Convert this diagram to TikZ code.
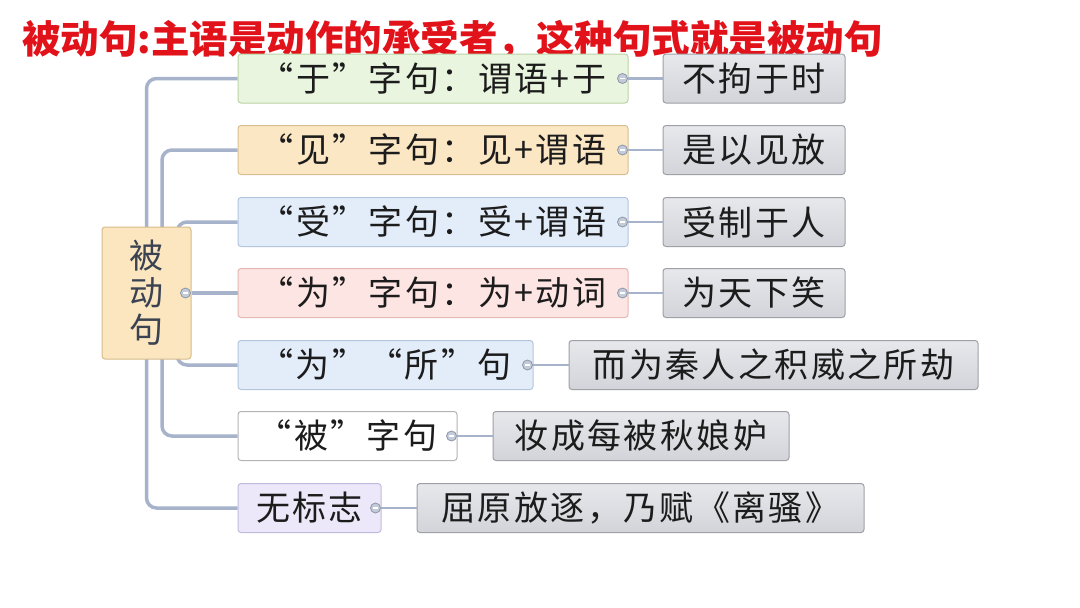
\documentclass[tikz,border=0pt]{standalone}
\usepackage{fontspec}
\setmainfont{Noto Sans CJK SC}
\usetikzlibrary{backgrounds}
\definecolor{titred}{HTML}{E2121A}
\definecolor{cAf}{HTML}{E9F5DE}\definecolor{cAd}{HTML}{BCD3A8}
\definecolor{cBf}{HTML}{FBE7C4}\definecolor{cBd}{HTML}{D8BF92}
\definecolor{cCf}{HTML}{E3EDFA}\definecolor{cCd}{HTML}{B4C5DE}
\definecolor{cDf}{HTML}{FDE5E3}\definecolor{cDd}{HTML}{E4B8B3}
\definecolor{cFd}{HTML}{B4B4B8}
\definecolor{cGf}{HTML}{ECE8F9}\definecolor{cGd}{HTML}{C2BADC}
\definecolor{rootf}{HTML}{FBE6BF}\definecolor{rootd}{HTML}{D6BC8A}
\definecolor{gtop}{HTML}{E7E8EC}\definecolor{gbot}{HTML}{D3D4D9}\definecolor{gdraw}{HTML}{9FA0A6}
\definecolor{lnc}{HTML}{A7B3CB}
\definecolor{dotf}{HTML}{C3CAD8}\definecolor{dotd}{HTML}{8C96A8}
\definecolor{txt}{HTML}{1C1C1C}
\definecolor{roottxt}{HTML}{3B4252}
\begin{document}
\begin{tikzpicture}[x=1pt,y=-1pt,
  lbox/.style={draw, rounded corners=3pt, line width=1pt, minimum height=49pt, inner sep=0pt,
    font=\fontsize{34}{34}\selectfont\addfontfeature{LetterSpace=7}, text=txt},
  gbox/.style={lbox, top color=gtop, bottom color=gbot, draw=gdraw},
  cdot/.style={circle, draw=dotd, fill=dotf, minimum size=10pt, inner sep=0pt, line width=0.8pt,
    path picture={\draw[white, line width=1.5pt] ([xshift=-2.6pt]path picture bounding box.center) -- ([xshift=2.6pt]path picture bounding box.center);}},
  conn/.style={draw=lnc, line width=3.5pt, rounded corners=10pt},
  link/.style={draw=lnc, line width=2.5pt}]
\useasboundingbox (0,0) rectangle (1080,608);

\node[anchor=west, text=titred, inner sep=0pt, font=\fontsize{38.5}{38.5}\selectfont\bfseries] (title) at (22,40) {被动句:主语是动作的承受者，这种句式就是被动句};

\node[lbox, fill=rootf, draw=rootd, minimum width=89pt, minimum height=132pt, align=center,
  font=\fontsize{34}{37}\selectfont, text=roottxt] (root) at (146.5,293) {被\\动\\句};

\node[lbox, fill=cAf, draw=cAd, minimum width=390pt] (b1) at (433,78.5) {“于”字句：谓语+于};
\node[lbox, fill=cBf, draw=cBd, minimum width=390pt] (b2) at (433,150) {“见”字句：见+谓语};
\node[lbox, fill=cCf, draw=cCd, minimum width=390pt] (b3) at (433,222) {“受”字句：受+谓语};
\node[lbox, fill=cDf, draw=cDd, minimum width=390pt] (b4) at (433,293) {“为”字句：为+动词};
\node[lbox, fill=cCf, draw=cCd, minimum width=295pt] (b5) at (385.5,365) {“为”“所”句};
\node[lbox, fill=white, draw=cFd, minimum width=219pt] (b6) at (347.5,436) {“被”字句};
\node[lbox, fill=cGf, draw=cGd, minimum width=143pt] (b7) at (309.5,508) {无标志};

\node[gbox, minimum width=182pt] (g1) at (754,78.5) {不拘于时};
\node[gbox, minimum width=182pt] (g2) at (754,150) {是以见放};
\node[gbox, minimum width=182pt] (g3) at (754,222) {受制于人};
\node[gbox, minimum width=182pt] (g4) at (754,293) {为天下笑};
\node[gbox, minimum width=409pt] (g5) at (773.5,365) {而为秦人之积威之所劫};
\node[gbox, minimum width=296pt] (g6) at (641,436) {妆成每被秋娘妒};
\node[gbox, minimum width=447pt] (g7) at (640.5,508) {屈原放逐，乃赋《离骚》};

\begin{scope}[on background layer]
\fill[white] (0,0) rectangle (1080,608);
\draw[conn] (root.center) |- (b1.west);
\draw[conn] ([xshift=15.5pt]root.center) |- (b2.west);
\draw[conn] ([xshift=30.5pt]root.center) |- (b3.west);
\draw[conn] (root.east) -- (b4.west);
\draw[conn] ([xshift=30.5pt]root.center) |- (b5.west);
\draw[conn] ([xshift=15.5pt]root.center) |- (b6.west);
\draw[conn] (root.center) |- (b7.west);
\end{scope}

\node[cdot] (d0) at ([xshift=-6pt]root.east) {};
\foreach \i in {1,...,7}{
  \node[cdot] (d\i) at ([xshift=-6pt]b\i.east) {};
  \draw[link] (d\i.east) -- (g\i.west);
}
\end{tikzpicture}
\end{document}
